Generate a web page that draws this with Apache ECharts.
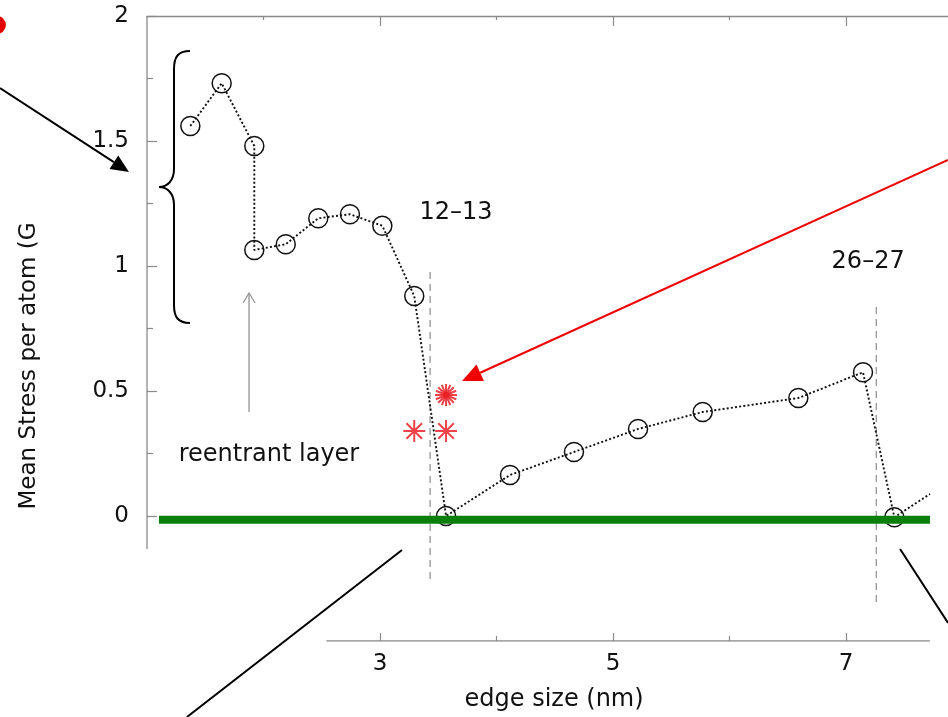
<!DOCTYPE html>
<html>
<head>
<meta charset="utf-8">
<script src="https://cdn.jsdelivr.net/npm/echarts@6/dist/echarts.min.js"></script>
<style>
  html, body { margin: 0; padding: 0; background: #fff; }
  #chart { width: 948px; height: 717px; }
</style>
</head>
<body>
<div id="chart"></div>
<script>
// Edge size (nm) of each relaxed nanocluster and the mean stress per atom.
// The last entry only marks where the trace leaves the frame (no marker).
const edgeSize   = [1.372, 1.641, 1.921, 1.921, 2.191, 2.470, 2.742, 3.020, 3.294, 3.567,
                    4.116, 4.665, 5.215, 5.770, 6.591, 7.146, 7.415, 7.721];
const meanStress = [1.560, 1.731, 1.480, 1.064, 1.087, 1.191, 1.207, 1.161, 0.880, 0.000,
                    0.164, 0.256, 0.348, 0.416, 0.472, 0.575, -0.005, 0.088];

// Alternative configurations (red asterisks)
const starEdge   = [3.567, 3.567, 3.294, 3.567];
const starStress = [0.484, 0.484, 0.340, 0.340];

// Shell closures: dashed separators and their labels
const shellEdge   = [3.43, 7.26];
const shellTop    = [0.976, 0.836];
const shellBottom = [-0.268, -0.344];
const shellLabels = ['12–13', '26–27'];

// Zero-stress reference level
const zeroLevel = -0.015;
const zeroFrom = 1.103, zeroTo = 7.721;

// Tick values
const yMajor = [0, 0.5, 1, 1.5, 2];
const yMinor = [0.25, 0.75, 1.25, 1.75];
const xMajor = [3, 5, 7];
const xMinorBottom = [4, 6];
const xMinorTop = [2, 4, 6];

const FONT = '"DejaVu Sans", sans-serif';
const FRAME = '#8a8a8a';

const chart = echarts.init(document.getElementById('chart'), null, { renderer: 'canvas' });

const pairs = (xs, ys) => xs.map((x, i) => [x, ys[i]]);
const lastIdx = edgeSize.length - 1;

const mainData = pairs(edgeSize, meanStress).map((p, i) =>
  i === lastIdx ? { value: p, symbol: 'none' } : { value: p });

const starPath = 'path://M10,0L10,20M0,10L20,10M2.93,2.93L17.07,17.07M17.07,2.93L2.93,17.07';
const starData = pairs(starEdge, starStress).map((p, i) =>
  i === 1 ? { value: p, symbolRotate: 22.5 } : { value: p });

// plot spans the full width of the page: 116.5 px per nm from x = 1 nm
const X_MIN = 1, X_MAX = 1 + 801 / 116.5;

const xAxisBase = {
  type: 'value', min: X_MIN, max: X_MAX, gridIndex: 0,
  splitLine: { show: false },
  axisLine: { show: false, onZero: false },
  axisLabel: { show: false }
};
const yAxisBase = {
  type: 'value', min: -0.5, max: 2, gridIndex: 0, position: 'left',
  splitLine: { show: false },
  axisLine: { show: false, onZero: false },
  axisLabel: { show: false }
};

const segment = (data, color, width, type, z) => ({
  type: 'line', data, symbol: 'none', silent: true, z: z || 2,
  lineStyle: { color, width, type: type || 'solid' },
  emphasis: { disabled: true }, animation: false
});

const option = {
  animation: false,
  backgroundColor: '#ffffff',
  grid: { left: 147, top: 16, right: 0, height: 625, containLabel: false },
  xAxis: [
    Object.assign({}, xAxisBase, {
      position: 'bottom',
      axisTick: { show: true, inside: true, length: 8, customValues: xMajor, lineStyle: { color: FRAME, width: 1.2 } },
      axisLabel: { show: true, customValues: xMajor, margin: 12, color: '#111', fontSize: 23, fontFamily: FONT }
    }),
    Object.assign({}, xAxisBase, {
      position: 'bottom',
      axisTick: { show: true, inside: true, length: 5, customValues: xMinorBottom, lineStyle: { color: FRAME, width: 1.2 } }
    }),
    Object.assign({}, xAxisBase, {
      position: 'top',
      axisLine: { show: true, onZero: false, lineStyle: { color: FRAME, width: 1.3 } },
      axisTick: { show: true, inside: true, length: 10, customValues: xMajor, lineStyle: { color: FRAME, width: 1.2 } }
    }),
    Object.assign({}, xAxisBase, {
      position: 'top',
      axisTick: { show: true, inside: true, length: 4, customValues: xMinorTop, lineStyle: { color: FRAME, width: 1.2 } }
    })
  ],
  yAxis: [
    Object.assign({}, yAxisBase, {
      axisTick: { show: true, inside: true, length: 10, customValues: yMajor, lineStyle: { color: FRAME, width: 1.2 } },
      axisLabel: { show: true, customValues: yMajor, margin: 18, color: '#111', fontSize: 23, fontFamily: FONT }
    }),
    Object.assign({}, yAxisBase, {
      axisTick: { show: true, inside: true, length: 6, customValues: yMinor, lineStyle: { color: FRAME, width: 1.2 } }
    })
  ],
  series: [
    // frame pieces: left axis and the lower edge-size axis
    segment([[1, -0.132], [1, 2]], FRAME, 1.3, 'solid', 1),
    segment([[2.54, -0.5], [7.72, -0.5]], FRAME, 1.3, 'solid', 1),
    // dashed shell separators
    segment([[shellEdge[0], shellTop[0]], [shellEdge[0], shellBottom[0]]], '#8c8c8c', 1.2, [7, 5], 2),
    segment([[shellEdge[1], shellTop[1]], [shellEdge[1], shellBottom[1]]], '#8c8c8c', 1.2, [7, 5], 2),
    {
      name: 'mean stress',
      type: 'line',
      data: mainData,
      z: 3,
      symbol: 'circle',
      symbolSize: 19,
      itemStyle: { color: 'rgba(255,255,255,0)', borderColor: '#111', borderWidth: 1.5 },
      lineStyle: { color: '#111', width: 1.9, type: [2, 2.2] },
      emphasis: { disabled: true },
      silent: true
    },
    // zero-stress reference
    segment([[zeroFrom, zeroLevel], [zeroTo, zeroLevel]], '#0b7f0b', 8, 'solid', 4),
    {
      name: 'alternative',
      type: 'scatter',
      data: starData,
      z: 5,
      symbol: starPath,
      symbolSize: 22,
      itemStyle: { color: '#e8141c', borderColor: '#e8141c', borderWidth: 2 },
      emphasis: { disabled: true },
      silent: true
    }
  ]
};

chart.setOption(option);

// ---- annotations positioned through the chart's coordinate system ----
const px = p => chart.convertToPixel({ xAxisIndex: 0, yAxisIndex: 0 }, p);

function arrow(from, to, color, lw, headLen, headHalf) {
  const a = px(from), b = px(to);
  const dx = b[0] - a[0], dy = b[1] - a[1];
  const len = Math.hypot(dx, dy);
  const ux = dx / len, uy = dy / len;
  const bx = b[0] - ux * headLen, by = b[1] - uy * headLen;
  const nx = -uy, ny = ux;
  return [
    { type: 'line', z: 10, shape: { x1: a[0], y1: a[1], x2: bx, y2: by }, style: { stroke: color, lineWidth: lw } },
    { type: 'polygon', z: 10, shape: { points: [[b[0], b[1]], [bx + nx * headHalf, by + ny * headHalf], [bx - nx * headHalf, by - ny * headHalf]] },
      style: { fill: color } }
  ];
}

function plainLine(from, to, color, lw) {
  const a = px(from), b = px(to);
  return { type: 'line', z: 10, shape: { x1: a[0], y1: a[1], x2: b[0], y2: b[1] }, style: { stroke: color, lineWidth: lw } };
}

function label(text, at, size, rotation) {
  const p = px(at);
  return { type: 'text', z: 10, x: p[0], y: p[1], rotation: rotation || 0,
    style: { text, fill: '#111', font: size + 'px ' + FONT, align: 'center', verticalAlign: 'middle' } };
}

// curly brace built from straight runs and cubic curves
function brace(top, cusp, bottom) {
  const t = px(top), c = px(cusp), b = px(bottom);
  const v = c[0] + 15;
  const st = { stroke: '#000', lineWidth: 2, fill: null };
  const curve = (x1, y1, cpx1, cpy1, cpx2, cpy2, x2, y2) =>
    ({ type: 'bezierCurve', z: 10, shape: { x1, y1, cpx1, cpy1, cpx2, cpy2, x2, y2 }, style: st });
  const seg = (x1, y1, x2, y2) => ({ type: 'line', z: 10, shape: { x1, y1, x2, y2 }, style: st });
  return [
    curve(t[0], t[1], t[0] - 12, t[1], v, t[1] + 6, v, t[1] + 18),
    seg(v, t[1] + 18, v, c[1] - 18),
    curve(v, c[1] - 18, v, c[1] - 6, c[0] + 8, c[1], c[0], c[1]),
    curve(c[0], c[1], c[0] + 8, c[1], v, c[1] + 6, v, c[1] + 18),
    seg(v, c[1] + 18, v, b[1] - 18),
    curve(v, b[1] - 18, v, b[1] - 6, b[0] - 12, b[1], b[0], b[1])
  ];
}

const dot = px([-0.288, 1.964]);
const grayTip = px([1.876, 0.892]);
const grayBase = px([1.876, 0.416]);

const graphics = [].concat(
  [{ type: 'circle', z: 10, shape: { cx: dot[0], cy: dot[1], r: 9 }, style: { fill: '#e40000' } }],
  arrow([-0.262, 1.712], [0.845, 1.376], '#000', 2, 18, 8),
  brace([1.369, 1.86], [1.103, 1.316], [1.369, 0.772]),
  [
    { type: 'line', z: 10, shape: { x1: grayBase[0], y1: grayBase[1], x2: grayTip[0], y2: grayTip[1] }, style: { stroke: '#9a9a9a', lineWidth: 1.4 } },
    { type: 'polyline', z: 10, shape: { points: [[grayTip[0] - 6, grayTip[1] + 10], grayTip, [grayTip[0] + 6, grayTip[1] + 10]] },
      style: { stroke: '#9a9a9a', lineWidth: 1.4, fill: null } }
  ],
  arrow([7.876, 1.424], [3.704, 0.54], '#f00000', 2, 20, 9),
  [plainLine([1.343, -0.804], [3.189, -0.136], '#000', 2)],
  [plainLine([7.464, -0.132], [7.876, -0.428], '#000', 2)],
  [
    label(shellLabels[0], [3.652, 1.212], 24),
    label(shellLabels[1], [7.19, 1.016], 24),
    label('reentrant layer', [2.047, 0.244], 24),
    label('edge size (nm)', [4.494, -0.736], 24),
    label('Mean Stress per atom (G', [-0.013, 0.6], 23, Math.PI / 2)
  ]
);

chart.setOption({ graphic: graphics });
</script>
</body>
</html>
